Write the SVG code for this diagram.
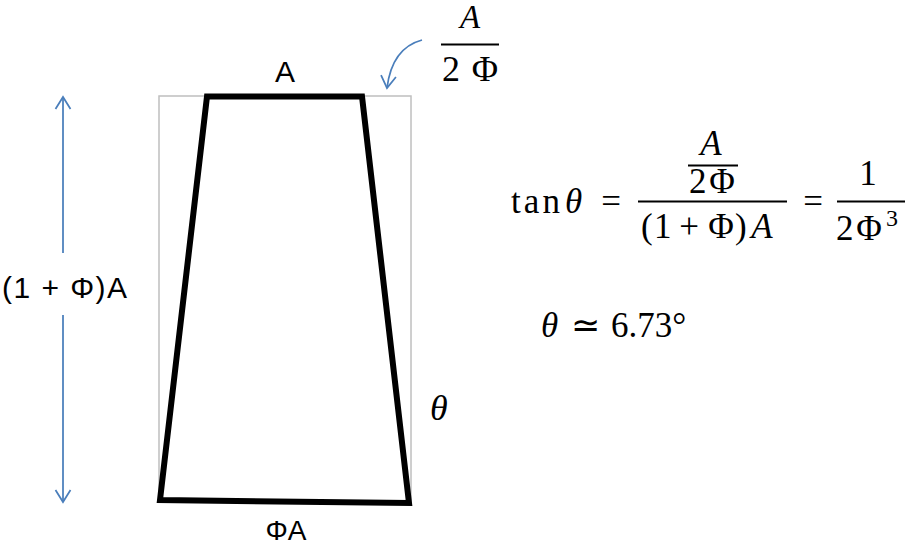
<svg xmlns="http://www.w3.org/2000/svg" width="905" height="547" viewBox="0 0 905 547">
  <defs>
    <style>
      .sans { font-family: "Liberation Sans", Arial, sans-serif; font-size: 30px; fill: #000; }
      .math { font-family: "Liberation Serif", "Times New Roman", serif; font-size: 35px; fill: #000; }
      .it { font-style: italic; }
      .blue { stroke: #4a7ebb; stroke-width: 1.75; fill: none; }
      .bar { stroke: #000; stroke-width: 2.2; }
    </style>
    <marker id="vhead" markerUnits="userSpaceOnUse" markerWidth="20" markerHeight="20" viewBox="-14 -10 16 20" refX="0" refY="0" orient="auto-start-reverse">
      <path d="M-12,-7.5 L0,0 L-12,7.5" fill="none" stroke="#4a7ebb" stroke-width="1.75"/>
    </marker>
  </defs>
  <rect width="905" height="547" fill="#fff"/>

  <g id="bounding-box">
    <rect x="159" y="96" width="252" height="405" fill="none" stroke="#bfbfbf" stroke-width="1.5"/>
  </g>

  <g id="trapezoid">
    <polygon points="207,96.5 362,96.5 409,503 160,500" fill="none" stroke="#000" stroke-width="6" stroke-linejoin="miter"/>
  </g>

  <g id="connectors">
    <line class="blue" x1="63" y1="97" x2="63" y2="253" marker-start="url(#vhead)"/>
    <line class="blue" x1="63" y1="315" x2="63" y2="502" marker-end="url(#vhead)"/>
    <path class="blue" d="M422,40 Q392,48 387,88" marker-end="url(#vhead)"/>
  </g>

  <g id="label-top">
    <text class="sans" x="285" y="82" text-anchor="middle">A</text>
  </g>
  <g id="label-bottom">
    <text class="sans" x="286" y="540" text-anchor="middle" style="font-size:28px">ΦA</text>
  </g>
  <g id="label-height">
    <text class="sans" x="2" y="298" textLength="125" lengthAdjust="spacing">(1 + Φ)A</text>
  </g>
  <g id="label-theta">
    <text class="math it" x="430" y="420" style="font-size:36px">θ</text>
  </g>

  <g id="label-offset">
    <text class="math it" x="470" y="28" text-anchor="middle" style="font-size:33px">A</text>
    <line class="bar" x1="441" y1="44.5" x2="499" y2="44.5" stroke-width="2.5"/>
    <text class="math" x="442" y="81" style="font-size:36px">2</text>
    <text class="math" x="485" y="81" text-anchor="middle" style="font-size:36px">Φ</text>
  </g>

  <g id="equation-tan">
    <text class="math" x="511" y="213" textLength="49" lengthAdjust="spacing">tan</text>
    <text class="math it" x="565" y="213">θ</text>
    <text class="math" x="611" y="213" text-anchor="middle">=</text>
    <text class="math it" x="711" y="155" text-anchor="middle">A</text>
    <line class="bar" x1="688" y1="165.5" x2="738" y2="165.5"/>
    <text class="math" x="689" y="193">2</text>
    <text class="math" x="722" y="193" text-anchor="middle">Φ</text>
    <line class="bar" x1="638" y1="201.5" x2="787" y2="201.5"/>
    <text class="math" x="641" y="238">(</text>
    <text class="math" x="654" y="238">1</text>
    <text class="math" x="689" y="238" text-anchor="middle">+</text>
    <text class="math" x="721" y="238" text-anchor="middle">Φ</text>
    <text class="math" x="735" y="238">)</text>
    <text class="math it" x="762" y="238" text-anchor="middle">A</text>
    <text class="math" x="813" y="213" text-anchor="middle">=</text>
    <line class="bar" x1="837" y1="201.5" x2="905" y2="201.5"/>
    <text class="math" x="868" y="185" text-anchor="middle">1</text>
    <text class="math" x="836" y="240">2</text>
    <text class="math" x="869" y="240" text-anchor="middle">Φ</text>
    <text class="math" x="886" y="226" style="font-size:24px">3</text>
  </g>

  <g id="equation-theta">
    <text class="math it" x="541" y="337">θ</text>
    <text class="math" x="585" y="337" text-anchor="middle">≃</text>
    <text class="math" x="611" y="337">6.73°</text>
  </g>
</svg>
